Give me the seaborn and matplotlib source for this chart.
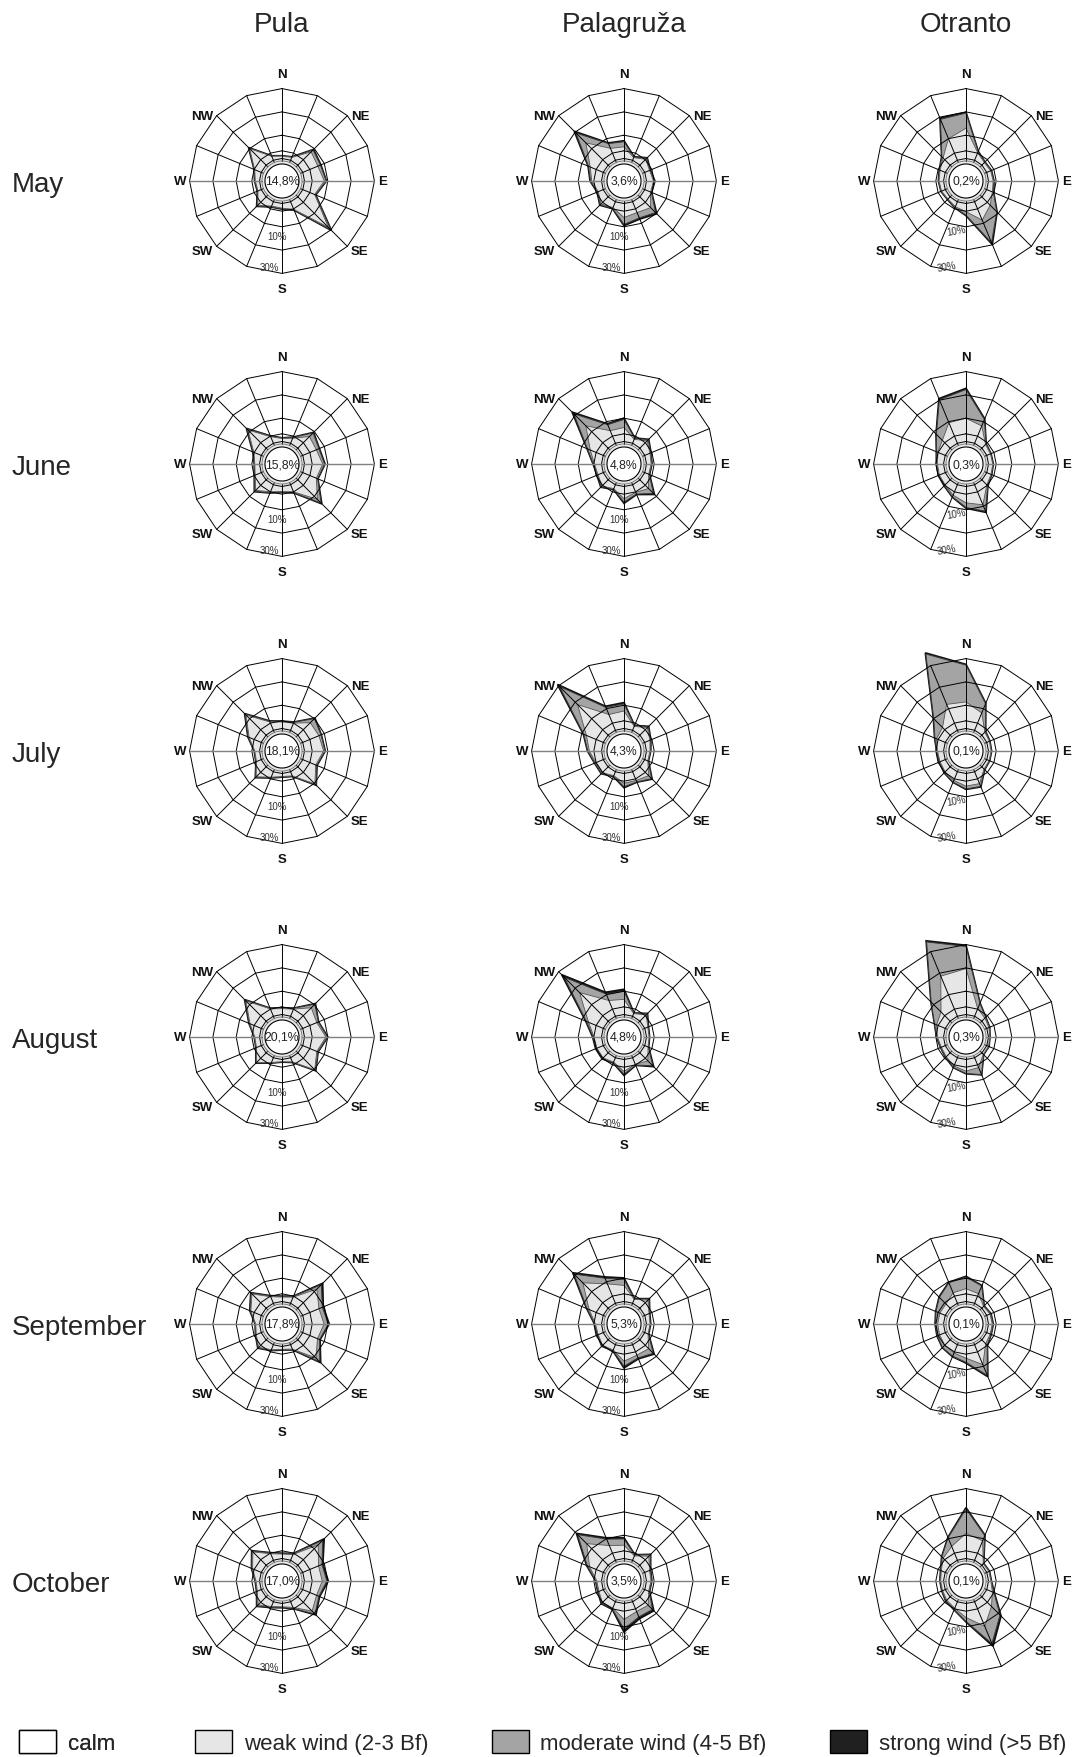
import numpy as np
import matplotlib
matplotlib.use('Agg')
import matplotlib.pyplot as plt
from matplotlib import font_manager
from matplotlib.patches import Patch
import seaborn as sns

# --------------------------------
# 1. Data (percent of observations per direction)
# --------------------------------
stations = ['Pula', 'Palagruža', 'Otranto']
months = ['May', 'June', 'July', 'August', 'September', 'October']
directions = ['N', 'NNE', 'NE', 'ENE', 'E', 'ESE', 'SE', 'SSE',
              'S', 'SSW', 'SW', 'WSW', 'W', 'WNW', 'NW', 'NNW']
compass_labels = ['N', 'NE', 'E', 'SE', 'S', 'SW', 'W', 'NW']

pula_calm = [14.8, 15.8, 18.1, 20.1, 17.8, 17.0]
palagruza_calm = [3.6, 4.8, 4.3, 4.8, 5.3, 3.5]
otranto_calm = [0.2, 0.3, 0.1, 0.3, 0.1, 0.1]

pula_weak = [
    [1.0, 1.3, 8.0, 7.0, 8.5, 5.5, 18.5, 3.5, 2.0, 2.0, 5.0, 1.5, 1.8, 3.0, 10.0, 1.8],
    [1.3, 2.3, 7.0, 6.3, 7.8, 6.3, 11.8, 3.3, 2.1, 3.3, 6.3, 2.8, 2.0, 3.4, 11.0, 3.0],
    [2.8, 3.3, 7.5, 7.5, 8.2, 6.0, 10.3, 1.9, 1.3, 2.5, 6.0, 2.2, 2.0, 5.6, 12.2, 3.8],
    [2.5, 3.3, 8.1, 6.5, 9.2, 6.5, 10.2, 1.9, 0.9, 2.2, 5.7, 2.2, 2.0, 5.2, 12.2, 3.4],
    [1.9, 2.8, 11.5, 7.5, 8.4, 6.8, 11.0, 2.0, 1.2, 2.3, 4.5, 2.3, 1.6, 4.8, 8.6, 3.0],
    [1.9, 2.6, 12.3, 7.3, 7.6, 6.4, 8.6, 2.6, 1.4, 2.2, 4.8, 1.8, 1.5, 4.0, 8.0, 3.0],
]
pula_moderate = [
    [0.1, 0.2, 1.2, 1.2, 0.8, 0.4, 1.5, 0.3, 0.3, 0.3, 0.5, 0.2, 0.2, 0.2, 0.4, 0.2],
    [0.2, 0.4, 2.2, 1.2, 0.8, 0.6, 2.3, 0.4, 0.3, 0.4, 0.6, 0.3, 0.2, 0.4, 0.7, 0.3],
    [0.3, 0.4, 2.5, 1.0, 0.6, 0.5, 0.7, 0.2, 0.2, 0.3, 0.4, 0.2, 0.2, 0.5, 0.6, 0.4],
    [0.3, 0.4, 2.2, 0.7, 0.7, 0.5, 0.5, 0.2, 0.15, 0.2, 0.4, 0.2, 0.2, 0.4, 0.6, 0.3],
    [0.3, 0.4, 2.7, 1.6, 1.8, 1.0, 2.3, 0.3, 0.2, 0.3, 0.4, 0.3, 0.2, 0.4, 0.5, 0.4],
    [0.3, 0.4, 2.8, 1.6, 2.0, 1.1, 1.8, 0.5, 0.3, 0.4, 0.7, 0.3, 0.3, 0.4, 0.5, 0.4],
]
pula_strong = [
    [0.05, 0.05, 0.3, 0.2, 0.1, 0.1, 0.3, 0.1, 0.1, 0.1, 0.2, 0.1, 0.1, 0.1, 0.2, 0.05],
    [0.05, 0.1, 0.3, 0.2, 0.2, 0.1, 0.4, 0.1, 0.1, 0.1, 0.2, 0.1, 0.05, 0.1, 0.2, 0.1],
    [0.05, 0.1, 0.3, 0.1, 0.1, 0.1, 0.1, 0.05, 0.05, 0.05, 0.1, 0.05, 0.05, 0.1, 0.2, 0.1],
    [0.05, 0.05, 0.3, 0.1, 0.1, 0.1, 0.1, 0.05, 0.05, 0.05, 0.1, 0.05, 0.05, 0.1, 0.2, 0.05],
    [0.05, 0.1, 0.8, 0.4, 0.4, 0.2, 0.5, 0.05, 0.1, 0.1, 0.1, 0.05, 0.05, 0.1, 0.2, 0.1],
    [0.05, 0.1, 0.8, 0.4, 0.6, 0.3, 0.5, 0.1, 0.1, 0.1, 0.2, 0.05, 0.05, 0.1, 0.2, 0.1],
]

palagruza_weak = [
    [5.0, 1.2, 3.5, 2.2, 3.0, 2.7, 6.5, 5.0, 6.0, 2.7, 4.2, 2.3, 4.2, 6.0, 13.5, 5.5],
    [6.0, 1.8, 4.4, 2.4, 2.0, 1.8, 5.2, 3.5, 5.2, 1.8, 3.7, 2.4, 3.0, 6.0, 13.5, 5.8],
    [7.5, 1.8, 4.5, 2.4, 1.5, 1.4, 5.3, 4.0, 4.2, 1.8, 3.5, 3.4, 5.2, 7.8, 18.5, 7.3],
    [6.5, 1.2, 3.8, 1.4, 1.1, 1.5, 4.8, 3.0, 5.1, 2.0, 3.0, 2.9, 3.2, 6.8, 17.3, 7.3],
    [6.9, 1.8, 4.8, 2.0, 1.5, 1.5, 5.3, 4.8, 6.3, 2.4, 3.3, 2.3, 2.6, 6.5, 15.3, 9.0],
    [5.7, 2.0, 5.4, 2.2, 1.9, 1.8, 5.0, 4.5, 6.8, 2.9, 3.4, 2.0, 2.0, 6.3, 13.0, 6.8],
]
palagruza_moderate = [
    [2.2, 0.3, 0.7, 0.3, 0.5, 0.4, 3.0, 2.5, 3.0, 0.4, 0.6, 0.4, 0.5, 0.8, 6.0, 2.2],
    [3.5, 0.5, 0.7, 0.4, 0.3, 0.3, 3.0, 0.8, 1.5, 0.3, 0.5, 0.4, 0.5, 1.3, 7.3, 2.8],
    [3.1, 0.3, 0.6, 0.3, 0.25, 0.25, 1.8, 0.7, 1.5, 0.3, 0.5, 0.5, 0.7, 1.2, 11.0, 3.3],
    [3.5, 0.2, 0.6, 0.2, 0.15, 0.2, 3.0, 0.4, 1.2, 0.3, 0.4, 0.4, 0.4, 1.0, 9.3, 3.0],
    [2.6, 0.2, 0.7, 0.2, 0.2, 0.2, 2.8, 1.3, 2.2, 0.3, 0.4, 0.3, 0.3, 1.0, 5.3, 2.6],
    [2.7, 0.4, 0.9, 0.4, 0.3, 0.3, 2.6, 2.5, 4.2, 0.4, 0.5, 0.4, 0.4, 1.1, 5.5, 3.0],
]
palagruza_strong = [
    [0.4, 0.1, 0.2, 0.1, 0.1, 0.1, 0.7, 0.5, 0.5, 0.1, 0.2, 0.1, 0.2, 0.2, 1.0, 0.3],
    [0.5, 0.1, 0.2, 0.1, 0.05, 0.1, 0.6, 0.2, 0.5, 0.05, 0.2, 0.1, 0.1, 0.2, 1.0, 0.4],
    [0.5, 0.1, 0.2, 0.1, 0.05, 0.05, 0.3, 0.1, 0.4, 0.1, 0.1, 0.1, 0.1, 0.2, 1.2, 0.5],
    [0.8, 0.1, 0.2, 0.1, 0.05, 0.1, 0.5, 0.1, 0.5, 0.1, 0.2, 0.2, 0.2, 0.3, 1.5, 0.8],
    [0.6, 0.1, 0.2, 0.1, 0.1, 0.1, 0.5, 0.4, 0.7, 0.1, 0.1, 0.1, 0.1, 0.2, 0.8, 0.6],
    [0.5, 0.1, 0.2, 0.1, 0.1, 0.1, 0.8, 0.8, 1.2, 0.2, 0.2, 0.1, 0.1, 0.3, 0.7, 0.6],
]

otranto_weak = [
    [13.0, 3.5, 1.5, 1.8, 2.0, 2.6, 5.0, 8.5, 3.5, 2.3, 1.3, 1.7, 1.9, 2.4, 4.3, 10.0],
    [10.0, 8.0, 2.2, 1.7, 1.8, 2.0, 3.0, 9.3, 7.0, 4.8, 3.0, 2.7, 2.6, 3.4, 4.7, 9.5],
    [11.4, 8.0, 1.8, 1.2, 1.1, 1.1, 1.3, 5.5, 5.4, 4.0, 3.0, 2.4, 2.6, 4.0, 4.6, 12.0],
    [19.7, 3.5, 1.8, 1.0, 0.5, 0.8, 0.8, 4.5, 5.0, 3.8, 2.3, 1.8, 2.6, 4.0, 5.5, 18.6],
    [5.5, 4.4, 1.0, 1.5, 1.6, 1.6, 2.3, 9.2, 5.0, 3.8, 3.2, 2.6, 2.5, 2.5, 2.5, 4.8],
    [10.8, 9.0, 0.8, 1.0, 1.0, 2.6, 5.8, 11.4, 6.0, 3.0, 2.0, 1.2, 1.2, 1.8, 4.2, 6.4],
]
otranto_moderate = [
    [6.5, 0.5, 0.3, 0.3, 0.3, 0.5, 4.0, 10.5, 1.5, 0.4, 0.2, 0.2, 0.2, 0.3, 0.7, 9.0],
    [12.3, 3.0, 0.3, 0.2, 0.2, 0.2, 0.5, 3.0, 2.0, 0.8, 0.5, 0.4, 0.4, 0.6, 3.6, 10.7],
    [15.8, 4.3, 0.4, 0.2, 0.2, 0.2, 0.3, 1.3, 1.2, 0.8, 0.5, 0.3, 0.3, 0.8, 5.3, 23.4],
    [9.5, 2.5, 0.5, 0.3, 0.1, 0.2, 0.2, 3.3, 1.0, 0.7, 0.4, 0.3, 0.4, 0.9, 6.0, 15.9],
    [5.0, 3.6, 0.3, 0.4, 0.4, 0.4, 0.9, 5.0, 1.8, 1.5, 1.4, 1.1, 1.0, 1.8, 4.0, 4.7],
    [10.5, 2.4, 0.2, 0.2, 0.2, 0.7, 5.2, 8.0, 1.7, 0.6, 0.5, 0.3, 0.3, 0.3, 0.8, 4.0],
]
otranto_strong = [
    [0.3, 0.1, 0.05, 0.05, 0.05, 0.1, 0.2, 0.8, 0.2, 0.1, 0.05, 0.05, 0.05, 0.05, 0.1, 0.5],
    [0.5, 0.3, 0.05, 0.05, 0.05, 0.05, 0.1, 0.5, 0.3, 0.1, 0.1, 0.05, 0.05, 0.1, 0.2, 0.5],
    [0.3, 0.2, 0.05, 0.02, 0.02, 0.02, 0.05, 0.2, 0.2, 0.1, 0.1, 0.05, 0.05, 0.1, 0.2, 0.5],
    [0.5, 0.1, 0.05, 0.02, 0.02, 0.02, 0.02, 0.1, 0.1, 0.05, 0.05, 0.02, 0.02, 0.05, 0.1, 0.5],
    [0.3, 0.2, 0.05, 0.05, 0.05, 0.05, 0.1, 0.6, 0.3, 0.2, 0.1, 0.1, 0.1, 0.1, 0.2, 0.2],
    [0.5, 0.2, 0.05, 0.05, 0.05, 0.2, 0.6, 1.2, 0.2, 0.1, 0.1, 0.05, 0.05, 0.05, 0.1, 0.2],
]

calm_all = [pula_calm, palagruza_calm, otranto_calm]
weak_all = [pula_weak, palagruza_weak, otranto_weak]
moderate_all = [pula_moderate, palagruza_moderate, otranto_moderate]
strong_all = [pula_strong, palagruza_strong, otranto_strong]

# --------------------------------
# 2. Style
# --------------------------------
sns.set_theme(style='white')
font_names = {f.name for f in font_manager.fontManager.ttflist}
has_narrow = 'Liberation Sans Narrow' in font_names
plt.rcParams['font.family'] = ['Liberation Sans', 'DejaVu Sans']
narrow = ['Liberation Sans Narrow', 'Liberation Sans', 'DejaVu Sans'] if has_narrow else ['Liberation Sans', 'DejaVu Sans']
calm_fs = 10 if has_narrow else 8.8
ring_fs = 8 if has_narrow else 7
legend_fs = 20 if has_narrow else 16

col_weak = '#e6e6e6'
col_mod = '#a4a4a4'
col_strong = '#202020'

W, H = 1088, 1758
PX = 2.33            # pixels per percent
OFFSET = 9.66        # radius of the 0 % ring, in percent units
RLIM = 48
R_OUT = OFFSET + 30
R_CALM = 7.3
R_INNER = 8.6
col_x = [282, 624, 966]
row_y = [182, 465, 752, 1038, 1325, 1582]

theta = np.deg2rad(np.arange(16) * 22.5)
theta_c = np.append(theta, theta[0])
circle_t = np.linspace(0, 2 * np.pi, 200)

label_pos = {
    'N': (0, 10.5, 'center', 'center'), 'NE': (2.5, 0, 'left', 'center'),
    'E': (2.5, 0, 'left', 'center'), 'SE': (2.5, -3, 'left', 'center'),
    'S': (0, -11, 'center', 'center'), 'SW': (-2.5, -3, 'right', 'center'),
    'W': (-2.5, 0, 'right', 'center'), 'NW': (-2.5, 0, 'right', 'center'),
}

fig = plt.figure(figsize=(W / 100, H / 100), dpi=100)
half = RLIM * PX

for j, station in enumerate(stations):
    fig.text(col_x[j] / W, 1 - 32 / H, station, ha='center', va='baseline', fontsize=20)
    for i, month in enumerate(months):
        cx, cy = col_x[j], row_y[i]
        ax = fig.add_axes([(cx - half) / W, 1 - (cy + half) / H, 2 * half / W, 2 * half / H],
                          projection='polar')
        ax.set_theta_zero_location('N')
        ax.set_theta_direction(-1)
        ax.set_ylim(0, RLIM)
        ax.grid(False)
        ax.set_xticks([])
        ax.set_yticks([])
        ax.spines['polar'].set_visible(False)
        ax.patch.set_alpha(0)

        weak = np.array(weak_all[j][i])
        mod = np.array(moderate_all[j][i])
        strong = np.array(strong_all[j][i])
        c1 = weak
        c2 = weak + mod
        c3 = weak + mod + strong

        ax.fill(theta_c, OFFSET + np.append(c3, c3[0]), facecolor=col_strong,
                edgecolor='#111111', lw=1.3, zorder=2)
        ax.fill(theta_c, OFFSET + np.append(c2, c2[0]), facecolor=col_mod,
                edgecolor='#3a3a3a', lw=0.7, zorder=2.1)
        ax.fill(theta_c, OFFSET + np.append(c1, c1[0]), facecolor=col_weak,
                edgecolor='#555555', lw=0.6, zorder=2.2)

        # polygonal grid
        for rv in [0, 3.3, 10, 20, 30]:
            ax.plot(theta_c, np.full(17, OFFSET + rv), color='black', lw=0.7, zorder=3)
        for k, t in enumerate(theta):
            grey = directions[k] in ('E', 'W')
            ax.plot([t, t], [R_INNER, R_OUT], color='#808080' if grey else 'black',
                    lw=1.0 if grey else 0.7, zorder=3)
        ax.plot(circle_t, np.full(circle_t.size, R_INNER), color='#707070', lw=0.6, zorder=3)
        ax.fill(circle_t, np.full(circle_t.size, R_CALM), facecolor='white',
                edgecolor='black', lw=0.8, zorder=4)

        calm_txt = f'{calm_all[j][i]:.1f}%'.replace('.', ',')
        ax.text(0, 0, calm_txt, ha='center', va='center', fontsize=calm_fs,
                family=narrow, color='#222222', zorder=5)

        if j == 2:
            ax.text(np.deg2rad(191.5), 21.5, '10%', ha='center', va='center', fontsize=ring_fs,
                    family=narrow, color='#333333', rotation=10, zorder=5)
            ax.text(np.deg2rad(193), 37.5, '30%', ha='center', va='center', fontsize=ring_fs,
                    family=narrow, color='#333333', rotation=10, zorder=5)
        else:
            ax.text(np.deg2rad(185), 23.6, '10%', ha='center', va='center', fontsize=ring_fs,
                    family=narrow, color='#333333', zorder=5)
            ax.text(np.deg2rad(188), 37.3, '30%', ha='center', va='center', fontsize=ring_fs,
                    family=narrow, color='#333333', zorder=5)

        for k, lbl in enumerate(compass_labels):
            dx, dy, ha, va = label_pos[lbl]
            ax.annotate(lbl, xy=(np.deg2rad(k * 45), R_OUT), xytext=(dx, dy),
                        textcoords='offset points', ha=ha, va=va, fontsize=9.5,
                        fontweight='bold', color='#111111', annotation_clip=False)

for i, month in enumerate(months):
    fig.text(12 / W, 1 - (row_y[i] + 10) / H, month, ha='left', va='baseline', fontsize=20)

# --------------------------------
# 3. Legend
# --------------------------------
fs_px = legend_fs * 100 / 72
handles = [
    Patch(facecolor='white', edgecolor='black', lw=1.0, label='calm'),
    Patch(facecolor=col_weak, edgecolor='black', lw=1.0, label='weak wind (2-3 Bf)'),
    Patch(facecolor=col_mod, edgecolor='black', lw=1.0, label='moderate wind (4-5 Bf)'),
    Patch(facecolor=col_strong, edgecolor='black', lw=1.0, label='strong wind (>5 Bf)'),
]
legend_kw = dict(loc='center left', frameon=False, borderpad=0, borderaxespad=0,
                 handlelength=37 / fs_px, handleheight=21 / fs_px * 1.3,
                 handletextpad=12 / fs_px, columnspacing=63 / fs_px,
                 prop={'family': narrow, 'size': legend_fs})
leg1 = fig.legend(handles=handles[:1], bbox_to_anchor=(19 / W, 1 - 1743 / H), ncol=1, **legend_kw)
fig.add_artist(leg1)
fig.legend(handles=handles[1:], bbox_to_anchor=(195 / W, 1 - 1743 / H), ncol=3, **legend_kw)

fig.savefig('out.png', dpi=100)
